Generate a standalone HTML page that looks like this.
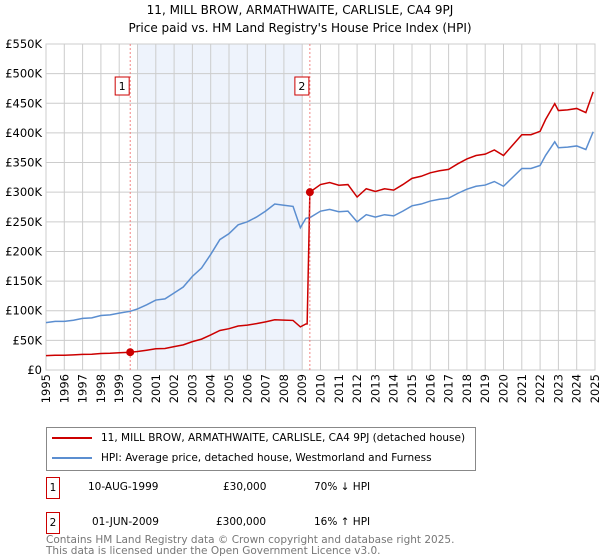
<!DOCTYPE html>
<html><head><meta charset="utf-8"><style>
body{margin:0;background:#fff;font-family:"DejaVu Sans","Liberation Sans",sans-serif;}
#wrap{position:relative;width:600px;height:560px;overflow:hidden;}
.t{position:absolute;white-space:nowrap;color:#000;}
</style></head><body><div id="wrap">
<div class="t" style="left:0;width:600px;text-align:center;top:3px;font-size:12px;">11, MILL BROW, ARMATHWAITE, CARLISLE, CA4 9PJ</div>
<div class="t" style="left:0;width:600px;text-align:center;top:21px;font-size:12px;">Price paid vs. HM Land Registry's House Price Index (HPI)</div>
<svg id="chart" width="600" height="420" style="position:absolute;left:0;top:0"></svg>
<div style="position:absolute;left:46px;top:427px;width:428px;height:42px;border:1px solid #888;">
<div style="position:absolute;left:5px;top:4px;font-size:10.5px;white-space:nowrap"><span style="display:inline-block;width:40px;height:2px;background:#cc0000;vertical-align:middle;margin-right:9px"></span>11, MILL BROW, ARMATHWAITE, CARLISLE, CA4 9PJ (detached house)</div>
<div style="position:absolute;left:5px;top:24px;font-size:10.5px;white-space:nowrap"><span style="display:inline-block;width:40px;height:2px;background:#5b8ed0;vertical-align:middle;margin-right:9px"></span>HPI: Average price, detached house, Westmorland and Furness</div>
</div>
<div style="position:absolute;left:46px;top:477px;font-size:10.5px;height:20px;width:400px">
<span style="position:absolute;left:0;top:0;width:12px;height:20px;border:1px solid #cc0000;text-align:center;line-height:20px">1</span>
<span class="t" style="left:42px;top:4px">10-AUG-1999</span><span class="t" style="left:177px;top:4px">£30,000</span><span class="t" style="left:268px;top:4px">70% ↓ HPI</span></div>
<div style="position:absolute;left:46px;top:512px;font-size:10.5px;height:20px;width:400px">
<span style="position:absolute;left:0;top:0;width:12px;height:20px;border:1px solid #cc0000;text-align:center;line-height:20px">2</span>
<span class="t" style="left:46px;top:4px">01-JUN-2009</span><span class="t" style="left:170px;top:4px">£300,000</span><span class="t" style="left:268px;top:4px">16% ↑ HPI</span></div>
<div class="t" style="left:46px;top:535px;font-size:10.5px;color:#777;line-height:11px">Contains HM Land Registry data © Crown copyright and database right 2025.<br>This data is licensed under the Open Government Licence v3.0.</div>
</div>
<script>
const hpiYears=[1995,1995.5,1996,1996.5,1997,1997.5,1998,1998.5,1999,1999.6,2000,2000.5,2001,2001.5,2002,2002.5,2003,2003.5,2004,2004.5,2005,2005.5,2006,2006.5,2007,2007.5,2008,2008.5,2008.9,2009.2,2009.42,2010,2010.5,2011,2011.5,2012,2012.5,2013,2013.5,2014,2014.5,2015,2015.5,2016,2016.5,2017,2017.5,2018,2018.5,2019,2019.5,2020,2020.5,2021,2021.5,2022,2022.3,2022.8,2023,2023.5,2024,2024.5,2024.9];
const hpiValues=[80000,82000,82000,84000,87000,88000,92000,93000,96000,99000,103000,110000,118000,120000,130000,140000,158000,172000,195000,220000,230000,245000,250000,258000,268000,280000,278000,276000,240000,256000,257000,268000,271000,267000,268000,250000,262000,258000,262000,260000,268000,277000,280000,285000,288000,290000,298000,305000,310000,312000,318000,310000,325000,340000,340000,345000,362000,385000,375000,376000,378000,372000,402000];
const saleYears=[1999.6,2009.42];
const salePrices=[30000,300000];
const yTicks=[0,50000,100000,150000,200000,250000,300000,350000,400000,450000,500000,550000];
const yTickLabels=["£0","£50K","£100K","£150K","£200K","£250K","£300K","£350K","£400K","£450K","£500K","£550K"];
const xTicks=[1995,1996,1997,1998,1999,2000,2001,2002,2003,2004,2005,2006,2007,2008,2009,2010,2011,2012,2013,2014,2015,2016,2017,2018,2019,2020,2021,2022,2023,2024,2025];
const ns="http://www.w3.org/2000/svg",svg=document.getElementById('chart');
const X0=46,X1=595,Y0=370,Y1=44;
const FF='DejaVu Sans, Liberation Sans, sans-serif';
const x=v=>X0+(v-1995)/30*(X1-X0);
const y=v=>Y0-v/550000*(Y0-Y1);
function mk(t,a){const e=document.createElementNS(ns,t);for(const k in a)e.setAttribute(k,a[k]);svg.appendChild(e);return e;}
let e;
e=mk('rect',{x:x(2000),y:Y1,width:x(2009)-x(2000),height:Y0-Y1,fill:'#eef3fc'});

yTicks.forEach((v,i)=>{e=mk('line',{x1:X0,x2:X1,y1:y(v),y2:y(v),stroke:'#ccc'});

e=mk('text',{x:X0-4,y:y(v)+4,'text-anchor':'end','font-size':'11.5','font-family':FF});e.textContent=yTickLabels[i];
});
xTicks.forEach(v=>{e=mk('line',{x1:x(v),x2:x(v),y1:Y1,y2:Y0,stroke:'#ccc'});

e=mk('text',{x:0,y:0,transform:`translate(${x(v)+4},374) rotate(-90)`,'text-anchor':'end','font-size':'11.5','font-family':FF});e.textContent=v;
});
e=mk('rect',{x:X0,y:Y1,width:X1-X0,height:Y0-Y1,fill:'none',stroke:'#ccc'});

function hpiAt(t){for(let i=1;i<hpiYears.length;i++)if(t<=hpiYears[i]){const f=(t-hpiYears[i-1])/(hpiYears[i]-hpiYears[i-1]);return hpiValues[i-1]+f*(hpiValues[i]-hpiValues[i-1]);}return hpiValues[hpiValues.length-1];}
e=mk('polyline',{points:hpiYears.map((t,i)=>x(t)+','+y(hpiValues[i])).join(' '),fill:'none',stroke:'#5b8ed0','stroke-width':1.5});

const r1=salePrices[0]/hpiAt(saleYears[0]),r2=salePrices[1]/hpiAt(saleYears[1]);
const pts=[];hpiYears.forEach((t,i)=>{if(t<saleYears[1])pts.push([t,hpiValues[i]*r1]);});
pts.push([saleYears[1]-0.15,hpiAt(saleYears[1]-0.15)*r1]);
pts.push([saleYears[1],salePrices[1]]);
hpiYears.forEach((t,i)=>{if(t>saleYears[1])pts.push([t,hpiValues[i]*r2]);});
e=mk('polyline',{points:pts.map(p=>x(p[0])+','+y(p[1])).join(' '),fill:'none',stroke:'#cc0000','stroke-width':1.5});

saleYears.forEach((t,i)=>{e=mk('line',{x1:x(t),x2:x(t),y1:Y1,y2:Y0,stroke:'#e66','stroke-dasharray':'2,2','stroke-width':0.8});

e=mk('circle',{cx:x(t),cy:y(salePrices[i]),r:4,fill:'#cc0000'});

e=mk('rect',{x:x(t)-15,y:77,width:14,height:18,fill:'#fff',stroke:'#cc0000'});

e=mk('text',{x:x(t)-8,y:90,'text-anchor':'middle','font-size':'11','font-family':FF});e.textContent=String(i+1);
});
</script></body></html>
